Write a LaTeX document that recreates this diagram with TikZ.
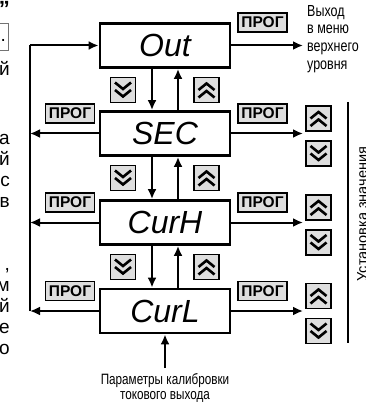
\documentclass[tikz,border=0pt]{standalone}
\usepackage{fontspec}
\setmainfont{Liberation Sans}
\newfontfamily\narrowfont[FakeStretch=0.78]{Liberation Sans}
\usetikzlibrary{arrows.meta}
\tikzset{
  mainbox/.style={draw, line width=2.8pt, fill=white, minimum width=130pt, minimum height=44pt, inner sep=0pt,
    font=\fontsize{32}{32}\selectfont\itshape},
  progbtn/.style={draw, line width=1.6pt, fill=black!13, minimum width=49pt, minimum height=19pt, inner sep=0pt,
    font=\fontsize{15.5}{15.5}\selectfont\bfseries},
  chevbtn/.style={draw, line width=1.6pt, fill=black!13, minimum width=25pt, minimum height=25pt, inner sep=0pt},
  chevdown/.style={chevbtn, path picture={
    \draw[shift={(path picture bounding box.center)}, line width=2.6pt]
      (-8,-7.5) -- (0,-1) -- (8,-7.5) (-8,0) -- (0,6.5) -- (8,0);}},
  chevup/.style={chevbtn, path picture={
    \draw[shift={(path picture bounding box.center)}, line width=2.6pt]
      (-8,7.5) -- (0,1) -- (8,7.5) (-8,0) -- (0,-6.5) -- (8,0);}},
  arr/.style={line width=2pt, -{Latex[length=10pt,width=9pt]}},
  plain/.style={line width=2pt},
  frag/.style={anchor=base east, inner sep=0pt, font=\fontsize{19}{19}\selectfont},
  sidetext/.style={inner sep=0pt, font=\narrowfont\fontsize{16}{17.7}\selectfont},
}
\begin{document}
\begin{tikzpicture}[x=1pt,y=-1pt]
\useasboundingbox (0,0) rectangle (365,406);
% left text fragments
\node[anchor=base east, inner sep=0pt, font=\bfseries\fontsize{22}{22}\selectfont] (q) at (10,17) {”};
\node[draw=black!55, line width=0.8pt, minimum width=18pt, minimum height=27pt, anchor=east, inner sep=0pt] (fbox) at (8.5,37) {};
\node[frag] (fdot) at (6,42) {.};
\node[frag] (f1) at (10,76) {й};
\node[frag] (f2) at (10,144) {а};
\node[frag] (f3) at (10,165) {й};
\node[frag] (f4) at (10,186) {с};
\node[frag] (f5) at (10,207) {в};
\node[frag] (f6) at (10,270) {,};
\node[frag] (f7) at (10,291) {м};
\node[frag] (f8) at (10,312) {й};
\node[frag] (f9) at (10,333) {е};
\node[frag] (f10) at (10,354) {о};
% main boxes
\node[mainbox] (out) at (165,45.5) {Out};
\node[mainbox] (sec) at (165,133.5) {SEC};
\node[mainbox] (curh) at (165,222.5) {CurH};
\node[mainbox] (curl) at (165,311) {CurL};
% vertical arrows between boxes
\draw[arr] ([xshift=-13pt]out.south) -- ([xshift=-13pt]sec.north);
\draw[arr] ([xshift=13pt]sec.north) -- ([xshift=13pt]out.south);
\draw[arr] ([xshift=-13pt]sec.south) -- ([xshift=-13pt]curh.north);
\draw[arr] ([xshift=13pt]curh.north) -- ([xshift=13pt]sec.south);
\draw[arr] ([xshift=-13pt]curh.south) -- ([xshift=-13pt]curl.north);
\draw[arr] ([xshift=13pt]curl.north) -- ([xshift=13pt]curh.south);
% middle chevrons
\node[chevdown] (d1) at (123,90) {};
\node[chevup] (u1) at (206.5,90) {};
\node[chevdown] (d2) at (123,178) {};
\node[chevup] (u2) at (206.5,178) {};
\node[chevdown] (d3) at (123,267) {};
\node[chevup] (u3) at (206.5,267) {};
% left loop
\coordinate (lx) at (30,0);
\draw[plain] (curl.west -| lx) -- (out.west -| lx);
\draw[arr] (out.west -| lx) -- (out.west);
\draw[arr] (sec.west) -- (sec.west -| lx);
\draw[arr] (curh.west) -- (curh.west -| lx);
\draw[arr] (curl.west) -- (curl.west -| lx);
\node[progbtn] (lp1) at (70,113.5) {ПРОГ};
\node[progbtn] (lp2) at (70,202.5) {ПРОГ};
\node[progbtn] (lp3) at (70,291) {ПРОГ};
% right side
\coordinate (rx) at (303,0);
\draw[arr] (out.east) -- (out.east -| rx);
\draw[arr] (sec.east) -- (sec.east -| rx);
\draw[arr] (curh.east) -- (curh.east -| rx);
\draw[arr] (curl.east) -- (curl.east -| rx);
\node[progbtn] (rp0) at (262.5,22.5) {ПРОГ};
\node[progbtn] (rp1) at (262.5,113.5) {ПРОГ};
\node[progbtn] (rp2) at (262.5,202.5) {ПРОГ};
\node[progbtn] (rp3) at (262.5,291) {ПРОГ};
\node[chevup] (ru1) at (318.5,118.5) {};
\node[chevdown] (rd1) at (318.5,153.5) {};
\node[chevup] (ru2) at (318.5,207.5) {};
\node[chevdown] (rd2) at (318.5,242.5) {};
\node[chevup] (ru3) at (318.5,296) {};
\node[chevdown] (rd3) at (318.5,331) {};
\node[sidetext, anchor=north west, align=left] (exit) at (307,5) {Выход\\в меню\\верхнего\\уровня};
% right bracket line and rotated label
\coordinate (vt) at (348,102);
\coordinate (vb) at (348,343);
\draw[line width=1.6pt] (vt) -- (vb);
\node[inner sep=0pt, rotate=90, anchor=base, font=\fontsize{14.5}{14.5}\selectfont] (setv) at (367,214) {Установка значения};
% bottom label and arrow
\node[inner sep=0pt, anchor=north, align=center, font=\narrowfont\fontsize{15}{15}\selectfont] (calib) at (165,373) {Параметры калибровки\\токового выхода};
\draw[arr] ([yshift=5pt]calib.north) -- (curl.south);
\end{tikzpicture}
\end{document}
